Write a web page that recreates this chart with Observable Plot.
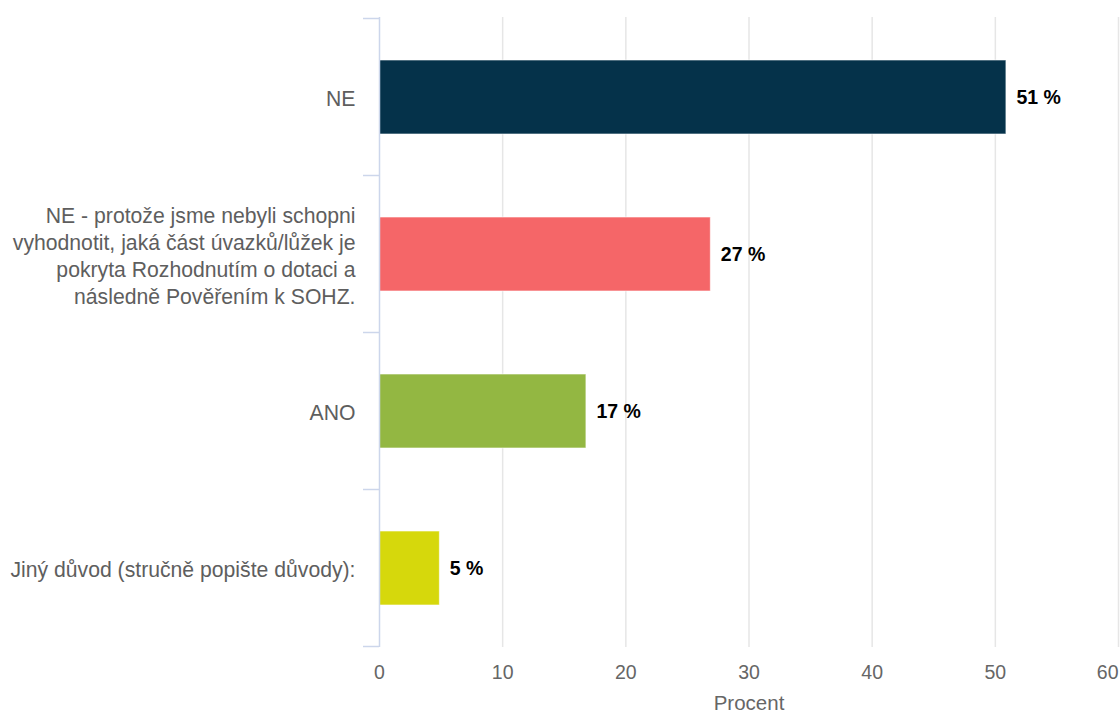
<!DOCTYPE html>
<html>
<head>
<meta charset="utf-8">
<script src="https://cdn.jsdelivr.net/npm/d3@7"></script>
<script src="https://cdn.jsdelivr.net/npm/@observablehq/plot@0.6"></script>
<style>
  html, body { margin: 0; padding: 0; background: #fff; overflow: hidden; }
  #chart svg { display: block; }
</style>
</head>
<body>
<div id="chart"></div>
<script>
const categories = [
  "NE",
  "NE - protože jsme nebyli schopni\nvyhodnotit, jaká část úvazků/lůžek je\npokryta Rozhodnutím o dotaci a\nnásledně Pověřením k SOHZ.",
  "ANO",
  "Jiný důvod (stručně popište důvody):"
];
const values = [50.9, 26.9, 16.8, 4.9];
const valueLabels = ["51 %", "27 %", "17 %", "5 %"];
const colors = ["#05324a", "#f56668", "#93b742", "#d6d80c"];
const xTicks = [0, 10, 20, 30, 40, 50, 60];
const xTitle = "Procent";

const data = categories.map((c, i) => ({cat: c, value: values[i], label: valueLabels[i], color: colors[i]}));

const font = "'Liberation Sans', Arial, sans-serif";

const chart = Plot.plot({
  width: 1120,
  height: 713,
  marginTop: 17,
  marginBottom: 66,
  marginLeft: 379,
  marginRight: 2,
  style: {fontFamily: font, fontSize: "19px", background: "#fff", overflow: "visible"},
  x: {domain: [0, 60]},
  y: {domain: categories, paddingInner: 0.53, paddingOuter: 0.265},
  marks: [
    Plot.gridX(xTicks.slice(1), {stroke: "#e6e6e6", strokeOpacity: 1, strokeWidth: 1.5}),
    Plot.barX(data, {x: "value", y: "cat", fill: "color", stroke: "#ffffff", strokeWidth: 1, strokeOpacity: 0.6}),
    Plot.ruleX([0], {stroke: "#ccd6eb", strokeWidth: 1.5}),
    Plot.text(data, {x: "value", y: "cat", text: "label", textAnchor: "start", dx: 10, fontWeight: "bold", fontSize: 19.5, fill: "#000"}),
    Plot.axisX(xTicks.slice(0, -1), {tickSize: 0, tickPadding: 18, fontSize: 19.5, fill: "#666", label: null}),
    Plot.axisX(xTicks.slice(-1), {tickSize: 0, tickPadding: 18, fontSize: 19.5, fill: "#666", textAnchor: "end", label: null}),
    Plot.axisY({tickSize: 0, tickPadding: 24, fontSize: 21.2, fill: "#5e5e5e", lineHeight: 1.27, textOverflow: null, lineWidth: Infinity, label: null}),
    Plot.text([xTitle], {frameAnchor: "bottom", dy: 56, fontSize: 20.5, fill: "#666", lineAnchor: "middle", text: d => d})
  ]
});

// category boundary ticks on the y axis, positioned from the plot's band scale
const ys = chart.scale("y");
const svg = d3.select(chart.tagName === "svg" ? chart : chart.querySelector("svg"));
const xs = chart.scale("x");
const x0 = xs.apply(0);
const half = (ys.step - ys.bandwidth) / 2;
const bounds = categories.map(c => ys.apply(c) - half).concat([ys.apply(categories[categories.length - 1]) + ys.bandwidth + half]);
svg.append("g")
  .attr("stroke", "#ccd6eb")
  .attr("stroke-width", 1.5)
  .selectAll("line")
  .data(bounds)
  .join("line")
  .attr("x1", x0 - 16)
  .attr("x2", x0)
  .attr("y1", d => d)
  .attr("y2", d => d);

document.getElementById("chart").appendChild(chart);
</script>
</body>
</html>
